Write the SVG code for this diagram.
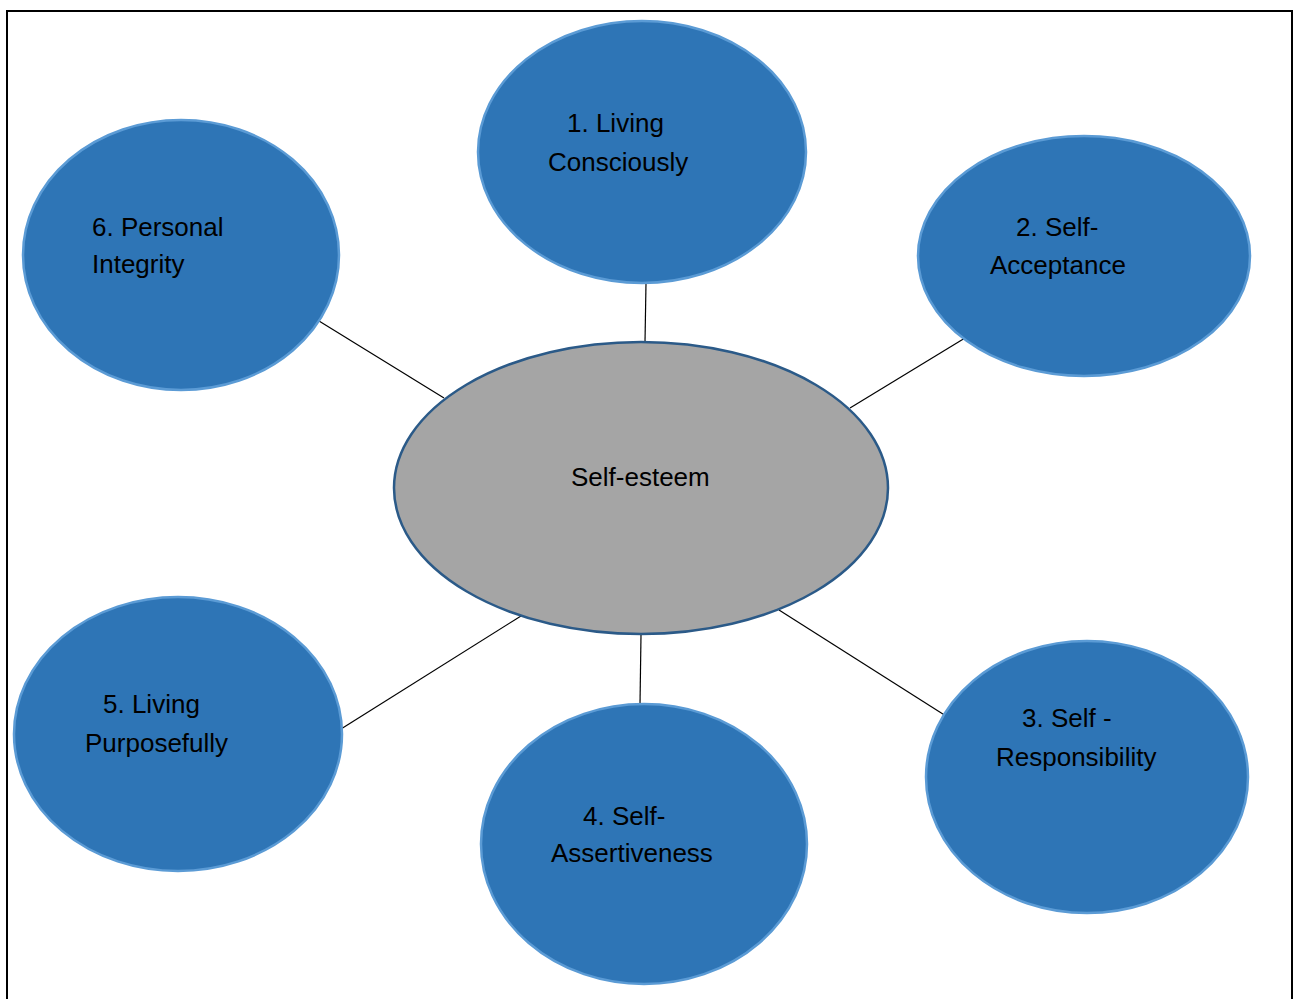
<svg xmlns="http://www.w3.org/2000/svg" width="1295" height="999" viewBox="0 0 1295 999">
  <style>
    .frame { fill: none; stroke: #000; stroke-width: 2; }
    .link { stroke: #000; stroke-width: 1.2; fill: none; }
    .pillar { fill: #2e75b6; stroke: #5b9bd5; stroke-width: 2.5; }
    .core { fill: #a5a5a5; stroke: #2b5a88; stroke-width: 2.5; }
    text { font-family: "Liberation Sans", Arial, sans-serif; font-size: 26px; fill: #000; }
  </style>

  <rect width="1295" height="999" fill="#fff"/>
  <!-- page frame (bottom edge runs off the sheet) -->
  <path class="frame" d="M7 1010 V11 H1292 V1010"/>

  <g id="connectors">
    <line class="link" x1="646" y1="283" x2="645" y2="342"/>
    <line class="link" x1="965" y1="338" x2="850" y2="408"/>
    <line class="link" x1="319" y1="321" x2="444" y2="398"/>
    <line class="link" x1="341" y1="729" x2="521" y2="616"/>
    <line class="link" x1="641" y1="635" x2="640" y2="704"/>
    <line class="link" x1="779" y1="610" x2="946" y2="716"/>
  </g>

  <g id="node-self-esteem">
    <ellipse class="core" cx="641" cy="488" rx="247" ry="146"/>
    <text x="571" y="486">Self-esteem</text>
  </g>

  <g id="node-living-consciously">
    <ellipse class="pillar" cx="642" cy="152" rx="164" ry="131"/>
    <text x="567" y="132">1. Living</text>
    <text x="548" y="171">Consciously</text>
  </g>

  <g id="node-self-acceptance">
    <ellipse class="pillar" cx="1084" cy="256" rx="166" ry="120"/>
    <text x="1016" y="236">2. Self-</text>
    <text x="990" y="274">Acceptance</text>
  </g>

  <g id="node-self-responsibility">
    <ellipse class="pillar" cx="1087" cy="777" rx="161" ry="136"/>
    <text x="1022" y="727">3. Self -</text>
    <text x="996" y="766">Responsibility</text>
  </g>

  <g id="node-self-assertiveness">
    <ellipse class="pillar" cx="644" cy="844" rx="163" ry="140"/>
    <text x="583" y="825">4. Self-</text>
    <text x="551" y="862">Assertiveness</text>
  </g>

  <g id="node-living-purposefully">
    <ellipse class="pillar" cx="178" cy="734" rx="164" ry="137"/>
    <text x="103" y="713">5. Living</text>
    <text x="85" y="752">Purposefully</text>
  </g>

  <g id="node-personal-integrity">
    <ellipse class="pillar" cx="181" cy="255" rx="158" ry="135"/>
    <text x="92" y="236">6. Personal</text>
    <text x="92" y="273">Integrity</text>
  </g>
</svg>
